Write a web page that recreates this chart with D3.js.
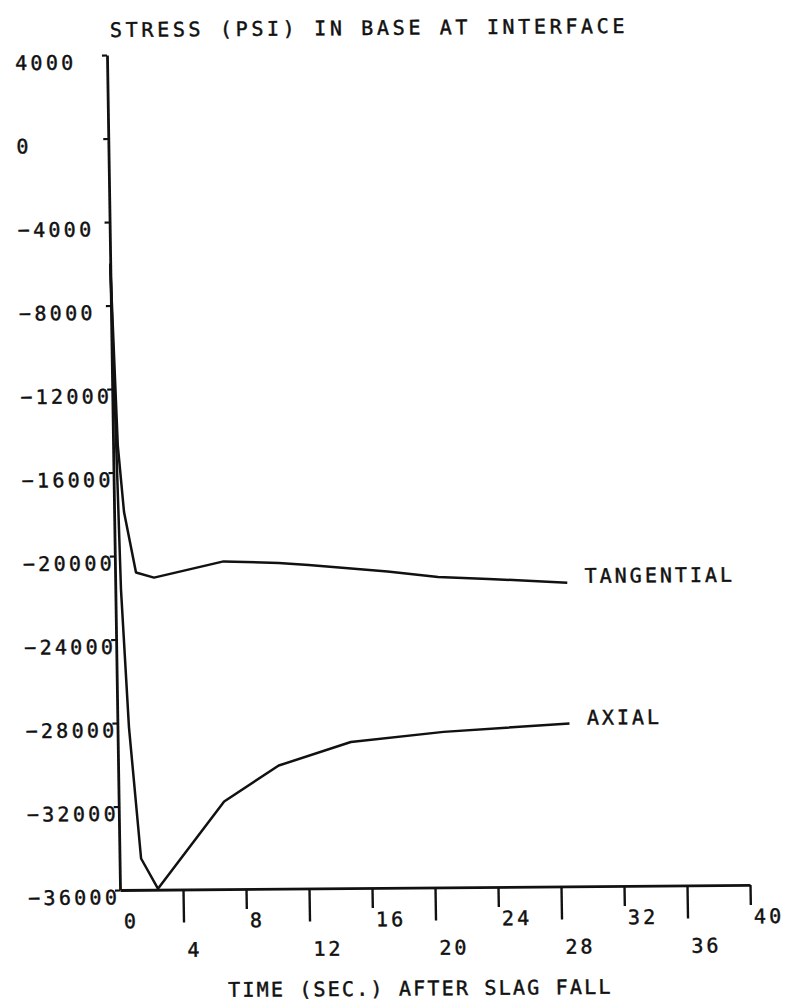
<!DOCTYPE html>
<html>
<head>
<meta charset="utf-8">
<script src="https://cdn.jsdelivr.net/npm/d3@7"></script>
<style>
  html, body { margin: 0; padding: 0; background: #fff; }
  svg { display: block; }
  text { font-family: "DejaVu Sans Mono", "Liberation Mono", monospace; font-size: 20px; fill: #111; stroke: #111; stroke-width: 0.45px; }
</style>
</head>
<body>
<svg id="chart" width="787" height="1007"></svg>
<script>
// Time after slag fall (s) and stress (psi) at the base interface
const timeTicks = [0, 4, 8, 12, 16, 20, 24, 28, 32, 36, 40];
const stressTicks = [4000, 0, -4000, -8000, -12000, -16000, -20000, -24000, -28000, -32000, -36000];

const tangentialTime   = [0, 0.3, 0.63, 1.33, 2.47, 6.9, 10.4, 12.3, 17.3, 20.5, 23.7, 28.7];
const tangentialStress = [-6000, -14700, -17900, -20800, -21050, -20300, -20400, -20500, -20850, -21130, -21240, -21450];

const axialTime   = [0, 0.36, 0.73, 1.37, 2.41, 6.7, 10.2, 14.8, 20.7, 28.7];
const axialStress = [-6000, -21600, -28200, -34500, -35950, -31800, -30100, -29000, -28550, -28200];

const seriesLabels = ["TANGENTIAL", "AXIAL"];

const svg = d3.select("#chart");
const x0 = 120, x1 = 750, yTop = 55, yBottom = 890;
const ink = "#111";

// the whole sheet sits a little askew
const g = svg.append("g")
  .attr("transform", `matrix(1,-0.008,0.0156,1,${-0.0156 * yBottom},${0.008 * x0})`);

const x = d3.scaleLinear().domain([0, 40]).range([x0, x1]);
const y = d3.scaleLinear().domain([-36000, 4000]).range([yBottom, yTop]);

// vertical axis: short ticks to the left, labels flush left
const yAxis = g.append("g")
  .attr("transform", `translate(${x0},0)`)
  .call(d3.axisLeft(y).tickValues(stressTicks).tickFormat(d3.format("d")).tickSize(5).tickSizeOuter(0));
yAxis.select(".domain").attr("stroke", ink).attr("stroke-width", 2.8);
yAxis.selectAll(".tick line").attr("stroke", ink).attr("stroke-width", 2.2);
yAxis.selectAll(".tick text")
  .attr("x", 28 - x0)
  .attr("dy", null)
  .attr("y", 13.8)
  .attr("text-anchor", "start")
  .attr("letter-spacing", 3.3)
  .style("font-size", "20px")
  .attr("fill", ink);

// horizontal axis: ticks alternate short / long, labels set just right of each tick
const xAxis = g.append("g")
  .attr("transform", `translate(0,${yBottom})`)
  .call(d3.axisBottom(x).tickValues(timeTicks).tickFormat(d3.format("d")).tickSizeOuter(0));
xAxis.select(".domain").attr("stroke", ink).attr("stroke-width", 2.8);
xAxis.selectAll(".tick line")
  .attr("stroke", ink).attr("stroke-width", 2.4)
  .attr("y2", (d, i) => i === 0 ? 0 : (i % 2 ? 33 : 20));
xAxis.selectAll(".tick text")
  .attr("x", 3)
  .attr("dy", null)
  .attr("y", (d, i) => i % 2 ? 67.3 : 38.3)
  .attr("text-anchor", "start")
  .attr("letter-spacing", 3)
  .style("font-size", "20px")
  .attr("fill", ink);

// curves
const line = d3.line().x(d => x(d[0])).y(d => y(d[1]));
const series = [
  d3.zip(tangentialTime, tangentialStress),
  d3.zip(axialTime, axialStress)
];
g.selectAll("path.curve").data(series).join("path")
  .attr("class", "curve")
  .attr("d", line)
  .attr("fill", "none")
  .attr("stroke", ink)
  .attr("stroke-width", 2.5)
  .attr("stroke-linejoin", "round");

// curve names at the right-hand end of each curve
const labelY = [586.6, 728.3];
g.selectAll("text.series").data(seriesLabels).join("text")
  .attr("class", "series")
  .attr("x", 589.5)
  .attr("y", (d, i) => labelY[i])
  .attr("letter-spacing", 3)
  .text(d => d);

// titles
g.append("text")
  .attr("x", 123.4).attr("y", 37)
  .attr("letter-spacing", 3.66)
  .text("STRESS (PSI) IN BASE AT INTERFACE");

g.append("text")
  .attr("x", 226.5).attr("y", 997.7)
  .attr("letter-spacing", 2.2)
  .text("TIME (SEC.) AFTER SLAG FALL");
</script>
</body>
</html>
